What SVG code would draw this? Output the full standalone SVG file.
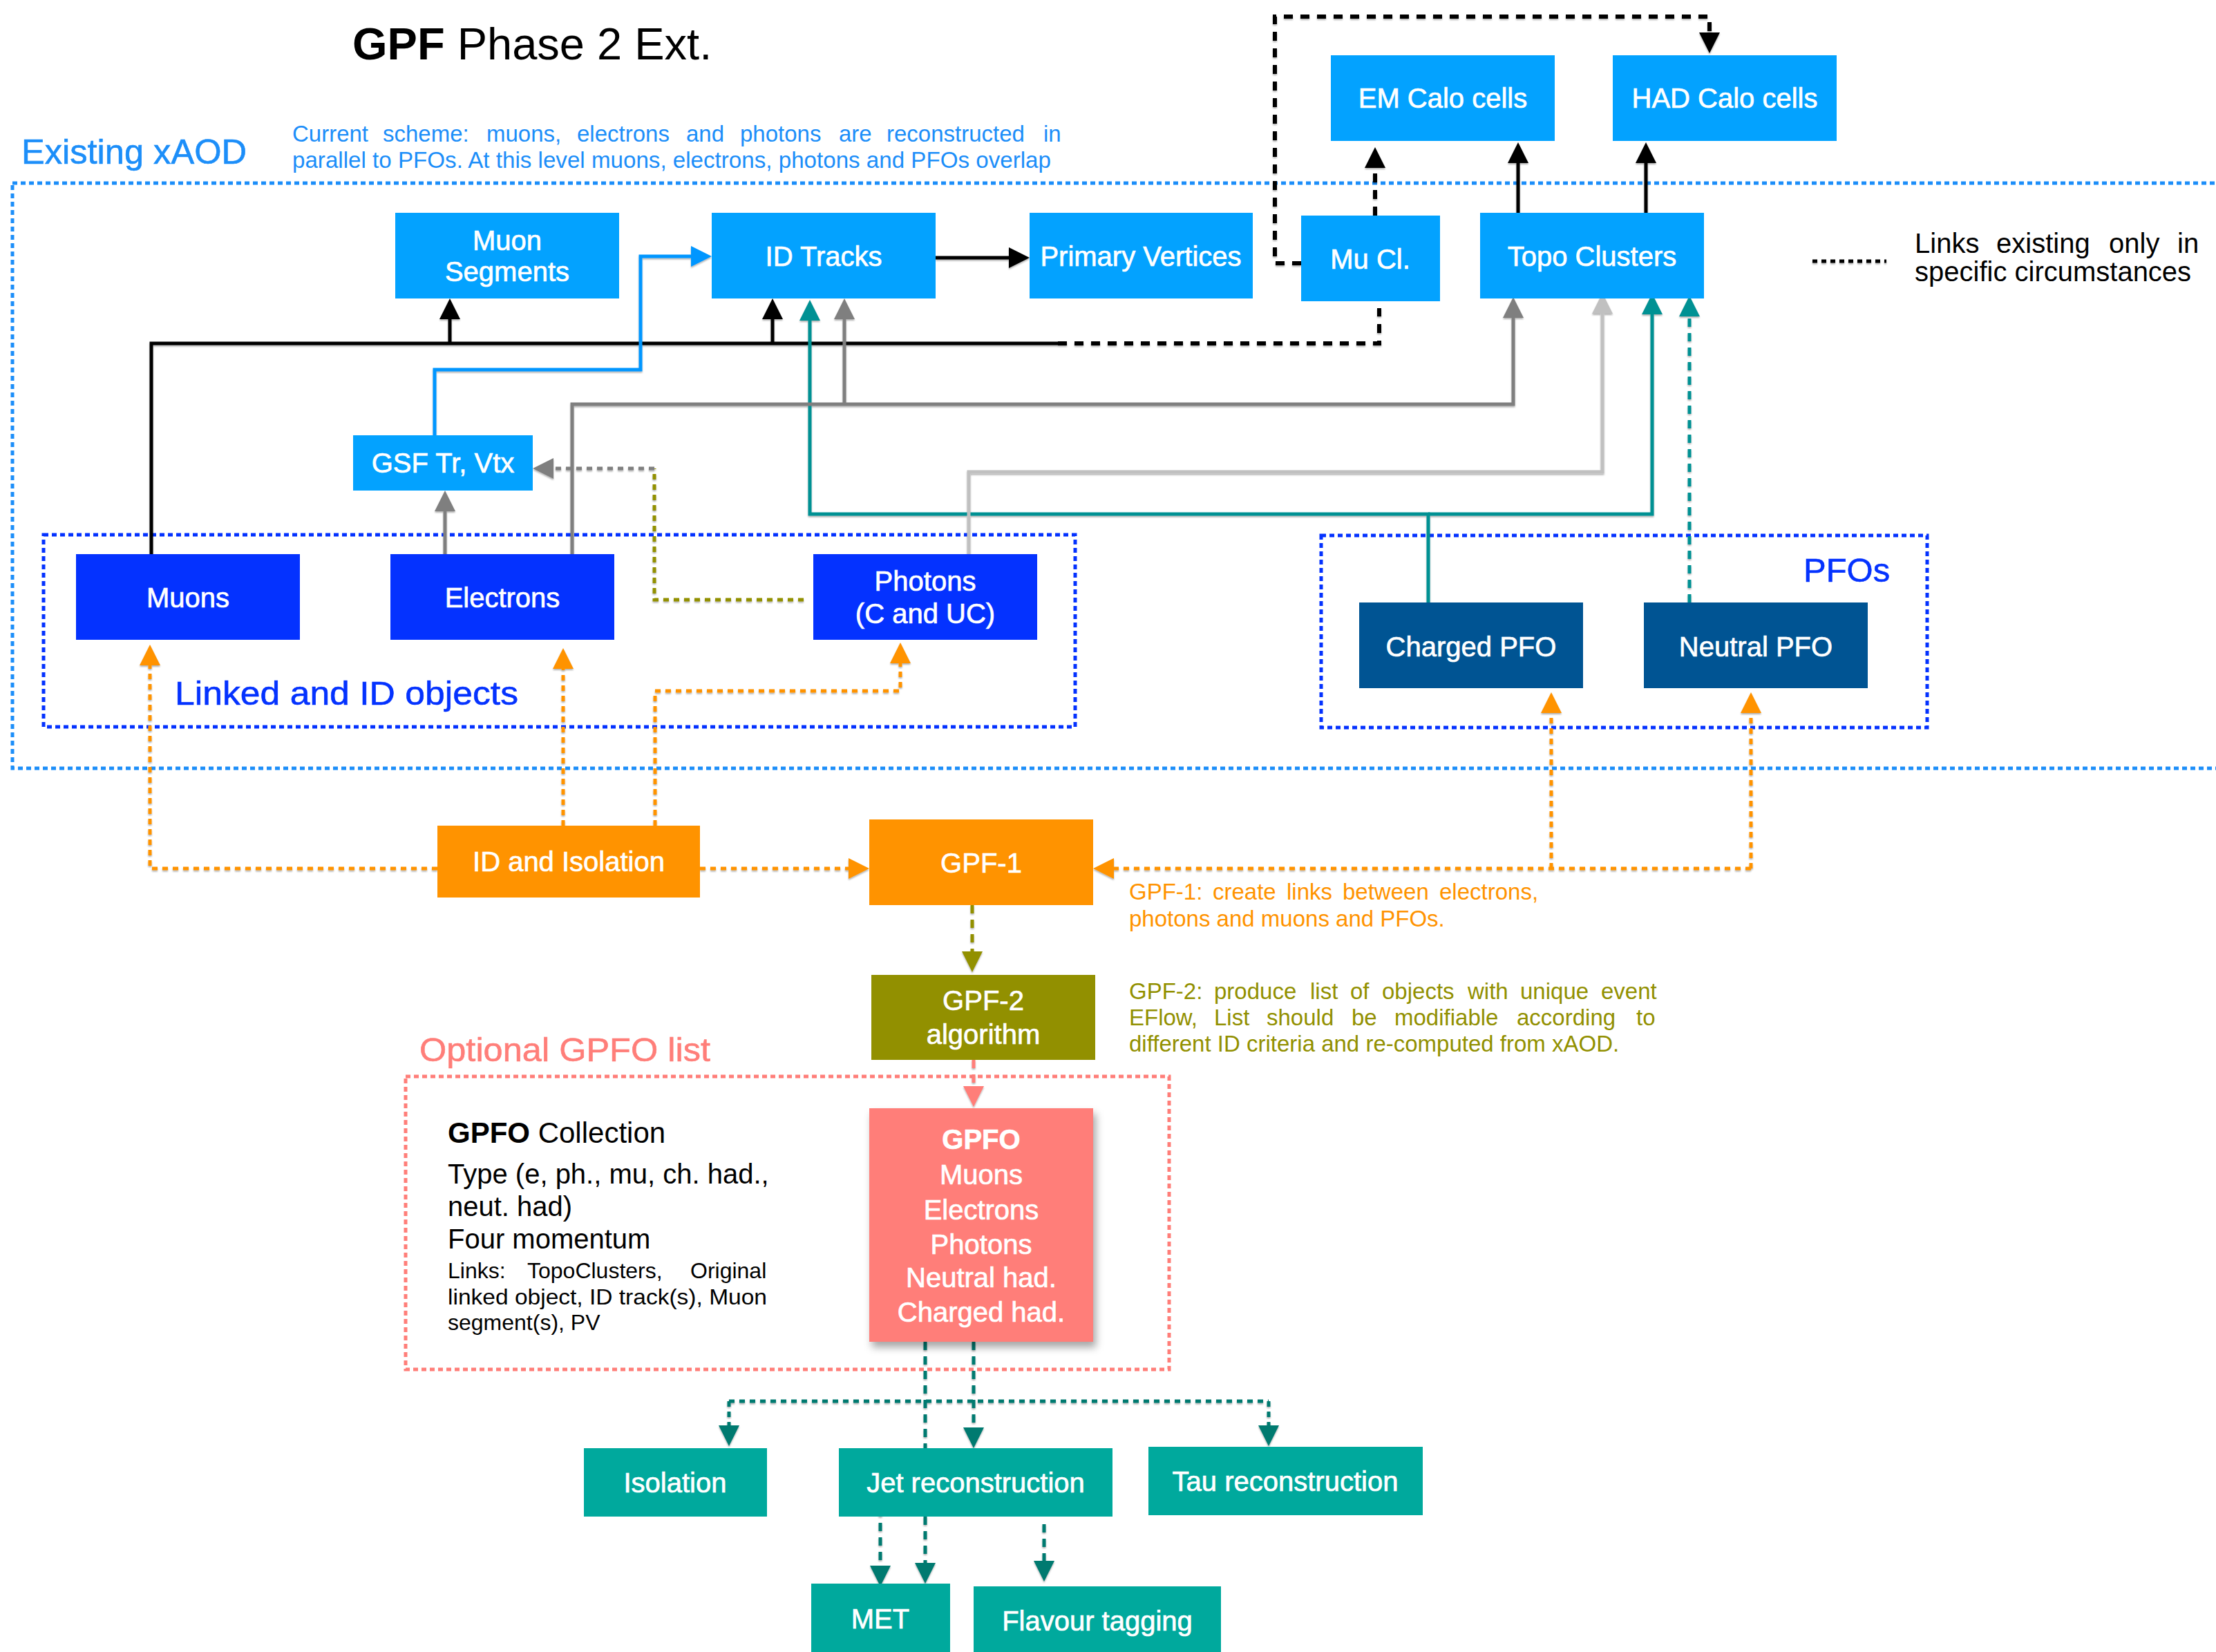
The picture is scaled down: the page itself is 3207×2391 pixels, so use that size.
<svg xmlns="http://www.w3.org/2000/svg" width="3207" height="2391" viewBox="0 0 3207 2391">
<style>
text{font-family:"Liberation Sans",Arial,Helvetica,sans-serif}
.lbl{fill:#fff;font-size:40px;text-anchor:middle;stroke:#fff;stroke-width:0.7}
.hdr{stroke-width:0.6}
.lb{fill:#03A2FF}
.db{fill:#0432FF}
.pfo{fill:#005493}
.org{fill:#FF9300}
.olv{fill:#929000}
.tl{fill:#00A99D}
.ln{fill:none;stroke-width:5}
.dot{stroke-dasharray:8 7}
.dash{stroke-dasharray:12 9}
.bdash{stroke-dasharray:13 11;stroke-width:6}
.grp{fill:none;stroke-width:5;stroke-dasharray:7 5}
.note{font-size:33px}
</style>
<defs>
<filter id="sh" x="-20%" y="-20%" width="140%" height="140%"><feDropShadow dx="4" dy="8" stdDeviation="6" flood-color="#000" flood-opacity="0.35"/></filter>
<filter id="lsh" x="-5%" y="-5%" width="110%" height="110%"><feDropShadow dx="0" dy="2" stdDeviation="0.8" flood-color="#000" flood-opacity="0.3"/></filter>
<marker id="mk" viewBox="0 0 30 30" refX="0" refY="15" markerWidth="30" markerHeight="30" markerUnits="userSpaceOnUse" orient="auto"><path d="M0,0 L30,15 L0,30 z" fill="#000"/></marker>
<marker id="mg" viewBox="0 0 30 30" refX="0" refY="15" markerWidth="30" markerHeight="30" markerUnits="userSpaceOnUse" orient="auto"><path d="M0,0 L30,15 L0,30 z" fill="#7F7F7F"/></marker>
<marker id="mlg" viewBox="0 0 30 30" refX="0" refY="15" markerWidth="30" markerHeight="30" markerUnits="userSpaceOnUse" orient="auto"><path d="M0,0 L30,15 L0,30 z" fill="#C0C0C0"/></marker>
<marker id="mt" viewBox="0 0 30 30" refX="0" refY="15" markerWidth="30" markerHeight="30" markerUnits="userSpaceOnUse" orient="auto"><path d="M0,0 L30,15 L0,30 z" fill="#009193"/></marker>
<marker id="mb" viewBox="0 0 30 30" refX="0" refY="15" markerWidth="30" markerHeight="30" markerUnits="userSpaceOnUse" orient="auto"><path d="M0,0 L30,15 L0,30 z" fill="#0096FF"/></marker>
<marker id="mo" viewBox="0 0 30 30" refX="0" refY="15" markerWidth="30" markerHeight="30" markerUnits="userSpaceOnUse" orient="auto"><path d="M0,0 L30,15 L0,30 z" fill="#FF9300"/></marker>
<marker id="mol" viewBox="0 0 30 30" refX="0" refY="15" markerWidth="30" markerHeight="30" markerUnits="userSpaceOnUse" orient="auto"><path d="M0,0 L30,15 L0,30 z" fill="#929000"/></marker>
<marker id="mp" viewBox="0 0 30 30" refX="0" refY="15" markerWidth="30" markerHeight="30" markerUnits="userSpaceOnUse" orient="auto"><path d="M0,0 L30,15 L0,30 z" fill="#FF7E79"/></marker>
<marker id="mdt" viewBox="0 0 30 30" refX="0" refY="15" markerWidth="30" markerHeight="30" markerUnits="userSpaceOnUse" orient="auto"><path d="M0,0 L30,15 L0,30 z" fill="#007A70"/></marker>
</defs>
<rect width="3207" height="2391" fill="#fff"/>

<!-- titles and notes -->
<text x="510" y="86" font-size="65" fill="#000"><tspan font-weight="bold">GPF</tspan> Phase 2 Ext.</text>
<text class="hdr" x="31" y="237" font-size="50" fill="#1C8EF9" stroke="#1C8EF9" textLength="326" lengthAdjust="spacingAndGlyphs">Existing xAOD</text>
<text class="note" y="205" fill="#1C8EF9"><tspan x="423">Current</tspan><tspan x="554">scheme:</tspan><tspan x="704">muons,</tspan><tspan x="835">electrons</tspan><tspan x="993">and</tspan><tspan x="1071">photons</tspan><tspan x="1214">are</tspan><tspan x="1283">reconstructed</tspan><tspan x="1510">in</tspan></text>
<text class="note" x="423" y="243" fill="#1C8EF9" textLength="1098" lengthAdjust="spacingAndGlyphs">parallel to PFOs. At this level muons, electrons, photons and PFOs overlap</text>
<text font-size="40" y="366" fill="#000"><tspan x="2771">Links</tspan><tspan x="2889">existing</tspan><tspan x="3052">only</tspan><tspan x="3151">in</tspan></text>
<text font-size="40" x="2771" y="407" fill="#000">specific circumstances</text>
<text class="hdr" font-size="49" x="253" y="1020" fill="#0432FF" stroke="#0432FF" textLength="497" lengthAdjust="spacingAndGlyphs">Linked and ID objects</text>
<text class="hdr" font-size="49" x="2610" y="842" fill="#0432FF" stroke="#0432FF">PFOs</text>
<text class="note" y="1302" fill="#FF9300"><tspan x="1634">GPF-1:</tspan><tspan x="1755">create</tspan><tspan x="1862">links</tspan><tspan x="1943">between</tspan><tspan x="2083">electrons,</tspan></text>
<text class="note" x="1634" y="1341" fill="#FF9300">photons and muons and PFOs.</text>
<text class="note" y="1446" fill="#929000"><tspan x="1634">GPF-2:</tspan><tspan x="1757">produce</tspan><tspan x="1896">list</tspan><tspan x="1954">of</tspan><tspan x="2000">objects</tspan><tspan x="2124">with</tspan><tspan x="2200">unique</tspan><tspan x="2317">event</tspan></text>
<text class="note" y="1484" fill="#929000"><tspan x="1634">EFlow,</tspan><tspan x="1757">List</tspan><tspan x="1833">should</tspan><tspan x="1956">be</tspan><tspan x="2018">modifiable</tspan><tspan x="2195">according</tspan><tspan x="2368">to</tspan></text>
<text class="note" x="1634" y="1522" fill="#929000">different ID criteria and re-computed from xAOD.</text>
<text class="hdr" font-size="49" x="607" y="1536" fill="#FF7E79" stroke="#FF7E79" textLength="421" lengthAdjust="spacingAndGlyphs">Optional GPFO list</text>

<!-- group frames -->
<g id="frames">
<rect class="grp" x="18" y="265" width="3250" height="847" stroke="#1C8EF9"/>
<rect class="grp" x="63" y="774" width="1493" height="278" stroke="#0432FF"/>
<rect class="grp" x="1912" y="775" width="877" height="278" stroke="#0432FF"/>
<rect class="grp" x="587" y="1558" width="1105" height="424" stroke="#FF7E79"/>
</g>

<!-- GPFO collection description -->
<g id="gpfo-collection-text" fill="#000">
<text x="648" y="1654" font-size="42"><tspan font-weight="bold">GPFO</tspan> Collection</text>
<text x="648" y="1713" font-size="40">Type (e, ph., mu, ch. had.,</text>
<text x="648" y="1760" font-size="40">neut. had)</text>
<text x="648" y="1807" font-size="40">Four momentum</text>
<text y="1850" font-size="32"><tspan x="648">Links:</tspan><tspan x="763">TopoClusters,</tspan><tspan x="999">Original</tspan></text>
<text x="648" y="1888" font-size="32" textLength="462" lengthAdjust="spacingAndGlyphs">linked object, ID track(s), Muon</text>
<text x="648" y="1925" font-size="32">segment(s), PV</text>
</g>

<!-- connectors -->
<g id="connectors" filter="url(#lsh)">
<!-- black solid -->
<path class="ln" stroke="#000" d="M219,802 V497 H1531"/>
<path class="ln" stroke="#000" d="M651,497 V462" marker-end="url(#mk)"/>
<path class="ln" stroke="#000" d="M1118,497 V462" marker-end="url(#mk)"/>
<path class="ln" stroke="#000" d="M1354,373 H1460" marker-end="url(#mk)"/>
<path class="ln" stroke="#000" d="M2197,308 V236" marker-end="url(#mk)"/>
<path class="ln" stroke="#000" d="M2382,308 V236" marker-end="url(#mk)"/>
<!-- black dashed (specific circumstances) -->
<path class="ln bdash" stroke="#000" d="M1531,497 H1996 V446"/>
<path class="ln bdash" stroke="#000" d="M1990,312 V243" marker-end="url(#mk)"/>
<path class="ln bdash" stroke="#000" d="M1883,381 H1845 V24 H2474 V47" marker-end="url(#mk)"/>
<path class="ln" stroke="#000" stroke-width="6" stroke-dasharray="7 6" d="M2623,378 H2730"/>
<!-- blue -->
<path class="ln" stroke="#0096FF" d="M629,630 V535 H927 V371 H1000" marker-end="url(#mb)"/>
<!-- teal -->
<path class="ln" stroke="#009193" d="M2067,872 V744 H1172 V464" marker-end="url(#mt)"/>
<path class="ln" stroke="#009193" d="M2067,744 H2391 V455" marker-end="url(#mt)"/>
<path class="ln dash" stroke="#009193" d="M2445,872 V458" marker-end="url(#mt)"/>
<!-- gray -->
<path class="ln" stroke="#7F7F7F" d="M828,802 V585 H2190 V460" marker-end="url(#mg)"/>
<path class="ln" stroke="#7F7F7F" d="M1222,585 V462" marker-end="url(#mg)"/>
<path class="ln" stroke="#7F7F7F" d="M644,802 V740" marker-end="url(#mg)"/>
<!-- light gray -->
<path class="ln" stroke="#C0C0C0" d="M1402,802 V683 H2319 V454" marker-end="url(#mlg)"/>
<!-- photons to GSF -->
<path class="ln dot" stroke="#929000" d="M1163,868 H947 V678"/>
<path class="ln dot" stroke="#7F7F7F" d="M947,678 H801" marker-end="url(#mg)"/>
<!-- orange -->
<path class="ln dot" stroke="#FF9300" d="M633,1257 H217 V963" marker-end="url(#mo)"/>
<path class="ln dot" stroke="#FF9300" d="M815,1195 V968" marker-end="url(#mo)"/>
<path class="ln dot" stroke="#FF9300" d="M948,1195 V1000 H1303 V960" marker-end="url(#mo)"/>
<path class="ln dot" stroke="#FF9300" d="M1013,1257 H1228" marker-end="url(#mo)"/>
<path class="ln dot" stroke="#FF9300" d="M2534,1257 H1612" marker-end="url(#mo)"/>
<path class="ln dot" stroke="#FF9300" d="M2245,1257 V1032" marker-end="url(#mo)"/>
<path class="ln dot" stroke="#FF9300" d="M2534,1257 V1032" marker-end="url(#mo)"/>
<!-- GPF chain -->
<path class="ln dash" stroke="#929000" d="M1407,1310 V1377" marker-end="url(#mol)"/>
<path class="ln dash" stroke="#FF7E79" d="M1409,1534 V1572" marker-end="url(#mp)"/>
<!-- GPFO outputs -->
<path class="ln dash" stroke="#007A70" d="M1339,1942 V2096"/>
<path class="ln dash" stroke="#007A70" d="M1409,1942 V2066" marker-end="url(#mdt)"/>
<path class="ln dot" stroke="#007A70" d="M1055,2028 H1836"/>
<path class="ln dot" stroke="#007A70" d="M1055,2028 V2063" marker-end="url(#mdt)"/>
<path class="ln dot" stroke="#007A70" d="M1836,2028 V2063" marker-end="url(#mdt)"/>
<path class="ln dash" stroke="#007A70" d="M1274,2183 V2266" marker-end="url(#mdt)"/>
<path class="ln dash" stroke="#007A70" d="M1339,2195 V2262" marker-end="url(#mdt)"/>
<path class="ln dash" stroke="#007A70" d="M1511,2206 V2259" marker-end="url(#mdt)"/>
</g>

<!-- nodes -->
<g id="em-calo"><rect class="lb" x="1926" y="80" width="324" height="124"/><text class="lbl" x="2088" y="156">EM Calo cells</text></g>
<g id="had-calo"><rect class="lb" x="2334" y="80" width="324" height="124"/><text class="lbl" x="2496" y="156">HAD Calo cells</text></g>
<g id="muon-segments"><rect class="lb" x="572" y="308" width="324" height="124"/><text class="lbl" x="734" y="362">Muon</text><text class="lbl" x="734" y="407">Segments</text></g>
<g id="id-tracks"><rect class="lb" x="1030" y="308" width="324" height="124"/><text class="lbl" x="1192" y="385">ID Tracks</text></g>
<g id="primary-vertices"><rect class="lb" x="1490" y="308" width="323" height="124"/><text class="lbl" x="1651" y="385">Primary Vertices</text></g>
<g id="mu-cl"><rect class="lb" x="1883" y="312" width="201" height="124"/><text class="lbl" x="1983" y="389">Mu Cl.</text></g>
<g id="topo-clusters"><rect class="lb" x="2142" y="308" width="324" height="124"/><text class="lbl" x="2304" y="385">Topo Clusters</text></g>
<g id="gsf"><rect class="lb" x="511" y="630" width="260" height="80"/><text class="lbl" x="641" y="684">GSF Tr, Vtx</text></g>
<g id="muons"><rect class="db" x="110" y="802" width="324" height="124"/><text class="lbl" x="272" y="879">Muons</text></g>
<g id="electrons"><rect class="db" x="565" y="802" width="324" height="124"/><text class="lbl" x="727" y="879">Electrons</text></g>
<g id="photons"><rect class="db" x="1177" y="802" width="324" height="124"/><text class="lbl" x="1339" y="855">Photons</text><text class="lbl" x="1339" y="902">(C and UC)</text></g>
<g id="charged-pfo"><rect class="pfo" x="1967" y="872" width="324" height="124"/><text class="lbl" x="2129" y="950">Charged PFO</text></g>
<g id="neutral-pfo"><rect class="pfo" x="2379" y="872" width="324" height="124"/><text class="lbl" x="2541" y="950">Neutral PFO</text></g>
<g id="id-isolation"><rect class="org" x="633" y="1195" width="380" height="104"/><text class="lbl" x="823" y="1261">ID and Isolation</text></g>
<g id="gpf1"><rect class="org" x="1258" y="1186" width="324" height="124"/><text class="lbl" x="1420" y="1263">GPF-1</text></g>
<g id="gpf2"><rect class="olv" x="1261" y="1411" width="324" height="123"/><text class="lbl" x="1423" y="1462">GPF-2</text><text class="lbl" x="1423" y="1511">algorithm</text></g>
<g id="gpfo"><rect x="1258" y="1604" width="324" height="338" fill="#FF7E79" filter="url(#sh)"/>
<text class="lbl" x="1420" y="1663" font-size="44" font-weight="bold">GPFO</text>
<text class="lbl" x="1420" y="1714">Muons</text>
<text class="lbl" x="1420" y="1765">Electrons</text>
<text class="lbl" x="1420" y="1815">Photons</text>
<text class="lbl" x="1420" y="1863">Neutral had.</text>
<text class="lbl" x="1420" y="1913">Charged had.</text></g>
<g id="isolation"><rect class="tl" x="845" y="2096" width="265" height="99"/><text class="lbl" x="977" y="2160">Isolation</text></g>
<g id="jet-reco"><rect class="tl" x="1214" y="2096" width="396" height="99"/><text class="lbl" x="1412" y="2160">Jet reconstruction</text></g>
<g id="tau-reco"><rect class="tl" x="1662" y="2094" width="397" height="99"/><text class="lbl" x="1860" y="2158">Tau reconstruction</text></g>
<g id="met"><rect class="tl" x="1174" y="2292" width="201" height="99"/><text class="lbl" x="1274" y="2357">MET</text></g>
<g id="flavour"><rect class="tl" x="1409" y="2296" width="358" height="95"/><text class="lbl" x="1588" y="2360">Flavour tagging</text></g>
</svg>
